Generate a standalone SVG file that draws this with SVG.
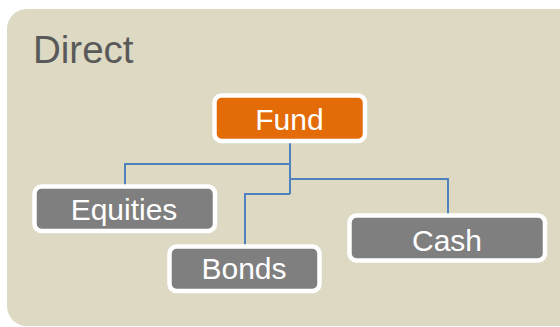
<svg xmlns="http://www.w3.org/2000/svg" width="560" height="327" viewBox="0 0 560 327">
<style>
.node rect{stroke:#fff;stroke-width:4.5}
.child rect{fill:#7F7F7F}
.node text{font-family:"Liberation Sans",Arial,sans-serif;font-size:30px;fill:#fff;text-anchor:middle}
.conn path{fill:none;stroke:#4F81BD;stroke-width:2}
</style>
<rect x="7" y="9" width="590" height="317" rx="20" fill="#DDD9C3"/>
<text x="33" y="63" font-family="Liberation Sans,Arial,sans-serif" font-size="38.5" fill="#595959">Direct</text>
<g id="connectors" class="conn">
<path d="M290 143V194"/>
<path d="M290 164H125V186.5"/>
<path d="M290 179H448V215.5"/>
<path d="M290 194H245V246"/>
</g>
<g id="fund" class="node">
<rect x="214.5" y="95.5" width="150.5" height="45.5" rx="7" fill="#E36C09"/>
<text x="289.5" y="130">Fund</text>
</g>
<g id="equities" class="node child">
<rect x="34.5" y="186.5" width="180.5" height="44.5" rx="7"/>
<text x="124" y="220">Equities</text>
</g>
<g id="bonds" class="node child">
<rect x="169.5" y="246.5" width="150" height="44.5" rx="7"/>
<text x="244" y="279">Bonds</text>
</g>
<g id="cash" class="node child">
<rect x="349.5" y="215.5" width="195.5" height="45" rx="7"/>
<text x="447" y="251">Cash</text>
</g>
</svg>
